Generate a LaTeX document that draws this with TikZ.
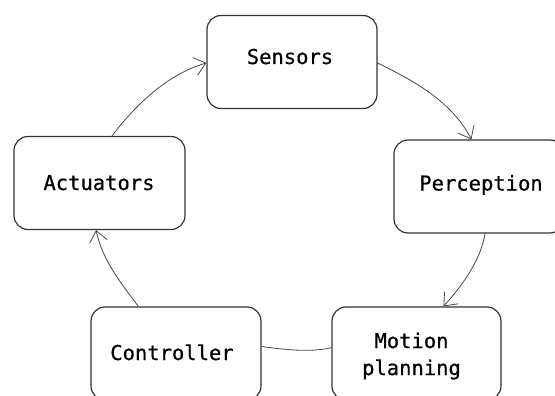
\documentclass[tikz,border=0pt]{standalone}
\usepackage{fontspec}
\newfontfamily\boxfont{DejaVu Sans Mono}[UprightFeatures={FakeBold=0.6}]
\usetikzlibrary{arrows.meta,calc}
\tikzset{
  box/.style={draw=black!80, line width=1.2pt, rounded corners=14pt, minimum width=170pt, minimum height=93pt, inner sep=0pt},
  lbl/.style={font=\boxfont\fontsize{20.5}{27}\selectfont, text=black, inner sep=0pt, align=center},
  conn/.style={draw=black!72, line width=0.8pt},
  arr/.style={conn, -{Straight Barb[length=11pt,width=18pt]}}
}
\begin{document}
\begin{tikzpicture}[x=1pt,y=-1pt]
\useasboundingbox (0,0) rectangle (555,396);
\clip (0,0) rectangle (555,396);
% boxes
\node[box] (sensors) at (292,62) {};
\node[box] (perc) at (479,186.5) {};
\node[box, minimum width=171pt] (act) at (99.5,183) {};
\node[box] (ctrl) at (176,353.5) {};
\node[box, minimum width=169pt] (motion) at (416.5,353.5) {};
% labels
\node[lbl, anchor=base] (tsensors) at (290,64) {Sensors};
\node[lbl, anchor=base] (tperc) at (481,190.5) {Perception};
\node[lbl, anchor=base] (tact) at (99,190) {Actuators};
\node[lbl, anchor=base] (tctrl) at (172,360) {Controller};
\node[lbl] (tmotion) at (411.5,356) {Motion\\planning};
% connectors
\draw[arr] ([xshift=98.6pt]act.north west) .. controls +(24.4,-32) and +(-38.4,11) .. ([yshift=-1pt]sensors.west);
\draw[arr] ([yshift=-1pt]sensors.east) .. controls +(37.8,18.5) and +(-19.3,-37.4) .. ([xshift=78pt]perc.north west);
\draw[arr] ([xshift=91.7pt]perc.south west) .. controls +(-4.8,27.4) and +(18.8,-20.7) .. ([xshift=112pt]motion.north west);
\draw[conn] ([yshift=5.8pt]motion.west) .. controls +(-22,5) and +(22,3) .. ([yshift=7pt]ctrl.east);
\draw[arr] ([xshift=48pt]ctrl.north west) .. controls +(-18,-24) and +(6,29.4) .. ([xshift=82.7pt]act.south west);
\end{tikzpicture}
\end{document}
